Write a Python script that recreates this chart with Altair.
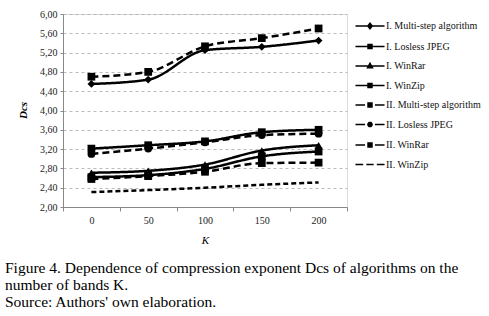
import altair as alt
import pandas as pd
import math

K = [0, 50, 100, 150, 200]
series_names = [
    "I. Multi-step algorithm",
    "I. Losless JPEG",
    "I. WinRar",
    "I. WinZip",
    "II. Multi-step algorithm",
    "II. Losless JPEG",
    "II. WinRar",
    "II. WinZip",
]
multistep_1 = [4.55, 4.64, 5.25, 5.32, 5.45]
jpeg_1 = [3.21, 3.28, 3.36, 3.55, 3.60]
winrar_1 = [2.71, 2.75, 2.88, 3.17, 3.28]
winzip_1 = [2.62, 2.66, 2.79, 3.05, 3.15]
multistep_2 = [4.70, 4.80, 5.33, 5.50, 5.70]
jpeg_2 = [3.10, 3.21, 3.34, 3.49, 3.52]
winrar_2 = [2.58, 2.64, 2.73, 2.91, 2.92]
winzip_2 = [2.31, 2.35, 2.40, 2.46, 2.51]

all_values = [multistep_1, jpeg_1, winrar_1, winzip_1,
              multistep_2, jpeg_2, winrar_2, winzip_2]

rows = []
for name, vals in zip(series_names, all_values):
    for k, v in zip(K, vals):
        rows.append({"K": str(k), "value": v, "series": name})
df = pd.DataFrame(rows)

K_labels = [str(k) for k in K]

dash_range = [[1, 0], [1, 0], [1, 0], [1, 0], [7, 4], [7, 4], [7, 4], [5, 3]]
marker_shapes = ["diamond", "square", "triangle-up", "square",
                 "square", "circle", "square"]

# legend glyphs: line segment(s) + marker, Excel style (M/L commands only)
L = "M-1.32,0L1.32,0"
Ld = "M-1.32,0L-0.45,0M0.45,0L1.32,0"
Lz = "M-1.32,0L-0.62,0M-0.33,0L0.33,0M0.62,0L1.32,0"
diamond = "M0,-0.26L0.2,0L0,0.26L-0.2,0Z"
square = "M-0.18,-0.18L0.18,-0.18L0.18,0.18L-0.18,0.18Z"
tri = "M0,-0.24L0.22,0.15L-0.22,0.15Z"
circ = "M" + "L".join(
    f"{0.19 * math.cos(a * math.pi / 8):.3f},{0.19 * math.sin(a * math.pi / 8):.3f}"
    for a in range(16)) + "Z"
legend_paths = [L + diamond, L + square, L + tri, L + square,
                Ld + square, Ld + circ, Ld + square, Lz]

x_enc = alt.X("K:O", sort=K_labels,
              scale=alt.Scale(paddingInner=0, paddingOuter=0),
              axis=alt.Axis(title="K", labelAngle=0, tickBand="extent",
                            tickSize=4, labelPadding=4, domainColor="#888",
                            tickColor="#888", labelFont="Liberation Serif",
                            labelFontSize=10, labelColor="#222",
                            titleFont="Liberation Serif", titleFontSize=11,
                            titleFontStyle="italic", titleFontWeight="normal",
                            titlePadding=9, grid=False))
y_enc = alt.Y("value:Q",
              scale=alt.Scale(domain=[2, 6], nice=False, zero=False),
              axis=alt.Axis(title="Dcs", values=[2.0, 2.4, 2.8, 3.2, 3.6, 4.0, 4.4, 4.8, 5.2, 5.6, 6.0],
                            labelExpr="replace(format(datum.value, '.2f'), '.', ',')",
                            tickSize=3, labelPadding=3, domainColor="#888",
                            tickColor="#888", grid=True, gridColor="#aaa",
                            gridDash=[3, 3], gridWidth=0.8,
                            labelFont="Liberation Serif", labelFontSize=10,
                            labelColor="#222",
                            titleFont="Liberation Serif", titleFontSize=11,
                            titleFontStyle="italic", titleFontWeight="bold",
                            titleX=-40, titleY=96, titleBaseline="middle",
                            titleAngle=270))

base = alt.Chart(df)

lines = base.mark_line(color="black", strokeWidth=2.5,
                       interpolate="monotone").encode(
    x=x_enc, y=y_enc,
    strokeDash=alt.StrokeDash("series:N",
                              scale=alt.Scale(domain=series_names, range=dash_range),
                              legend=None),
    detail="series:N",
)

points = base.transform_filter(
    alt.datum.series != "II. WinZip"
).mark_point(filled=True, color="black", opacity=1, size=60).encode(
    x=x_enc, y=y_enc,
    shape=alt.Shape("series:N",
                    scale=alt.Scale(domain=series_names[:7], range=marker_shapes),
                    legend=None),
)

# legend-only layer: draws no rows, the explicit domain keeps every entry
legend_layer = base.transform_filter("false").mark_point(
    filled=False, fill="black", stroke="black", strokeWidth=2.6, opacity=1,
    size=484).encode(
    x=x_enc, y=y_enc,
    shape=alt.Shape("series:N",
                    scale=alt.Scale(domain=series_names, range=legend_paths),
                    legend=alt.Legend(title=None, orient="right", offset=11,
                                      symbolSize=484, rowPadding=2.5,
                                      labelOffset=4, labelFont="Liberation Serif",
                                      labelFontSize=10, labelColor="#111",
                                      labelLimit=200, padding=0)),
)

caption = alt.TitleParams(
    text=["Figure 4. Dependence of compression exponent Dcs of algorithms on the",
          "number of bands K.",
          "Source: Authors' own elaboration."],
    orient="bottom", anchor="start", frame="group",
    font="Liberation Serif", fontSize=15.5, fontWeight="normal",
    color="black", lineHeight=17, dx=-58, offset=16,
)

chart = alt.layer(lines, points, legend_layer).resolve_scale(
    shape="independent"
).properties(
    width=284, height=193, title=caption,
    autosize=alt.AutoSizeParams(type="none"),
    padding={"left": 63, "top": 14, "right": 142, "bottom": 109},
).configure_view(stroke=None).configure(background="white")

chart.save("out.html", embed_options={"renderer": "svg", "actions": False})
